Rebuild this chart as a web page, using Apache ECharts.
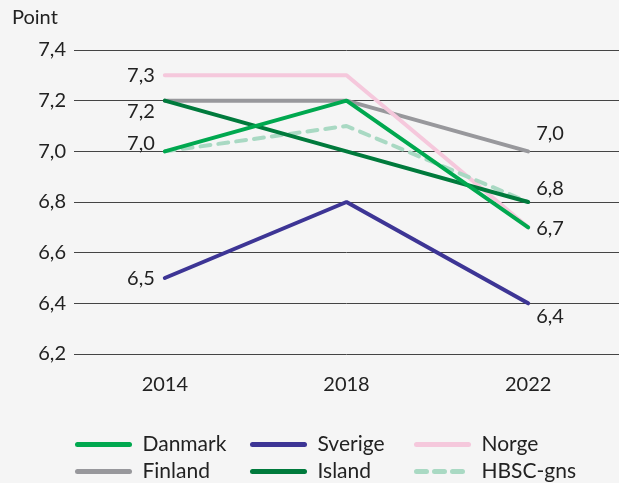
<!DOCTYPE html>
<html>
<head>
<meta charset="utf-8">
<script src="https://cdn.jsdelivr.net/npm/echarts@6/dist/echarts.min.js"></script>
<style>
  html, body { margin: 0; padding: 0; background: #f5f5f5; }
  #chart { width: 619px; height: 483px; }
</style>
</head>
<body>
<div id="chart"></div>
<script>
var years = ['2014', '2018', '2022'];
var danmark = [7.0, 7.2, 6.7];
var sverige = [6.5, 6.8, 6.4];
var norge = [7.3, 7.3, 6.7];
var finland = [7.2, 7.2, 7.0];
var island = [7.2, 7.0, 6.8];
var hbsc = [7.0, 7.1, 6.8];

(function () {
  var myChart = echarts.init(document.getElementById('chart'));
  var font = 'Lato, "Noto Sans", sans-serif';
  var txt = '#222';
  var fs = 20;

  function fmt(v) {
    return v.toFixed(1).replace('.', ',');
  }

  // which points carry a value label, and where it sits: [position, dy]
  function points(values, labels) {
    return values.map(function (v, i) {
      var l = labels[i];
      if (!l) return v;
      return {
        value: v,
        label: {
          show: true,
          position: l[0],
          distance: l[0] == 'left' ? 10 : 8,
          offset: [0, l[1]],
          formatter: function (p) { return fmt(p.value); },
          color: txt,
          fontSize: fs,
          fontFamily: font
        }
      };
    });
  }

  function line(name, color, values, labels, dashed) {
    return {
      name: name,
      type: 'line',
      symbol: 'circle',
      symbolSize: 0,
      data: points(values, labels),
      lineStyle: { color: color, width: 4, type: dashed ? [10, 8] : 'solid', cap: 'round' },
      itemStyle: { color: color },
      emphasis: { disabled: true }
    };
  }

  function legend(name, left, top) {
    return {
      data: [name],
      left: left,
      top: top,
      itemWidth: 52,
      itemHeight: 14,
      itemStyle: { opacity: 0 },
      lineStyle: { width: 5, cap: 'round' },
      textStyle: { color: txt, fontSize: 21, fontFamily: font, padding: [0, 0, 0, 8] }
    };
  }

  var option = {
    backgroundColor: '#f5f5f5',
    animation: false,
    title: {
      text: 'Point',
      left: 7,
      top: 3,
      textStyle: { color: txt, fontSize: fs, fontWeight: 'normal', fontFamily: font }
    },
    legend: [
      legend('Danmark', 70, 429),
      legend('Sverige', 245, 429),
      legend('Norge', 409, 429),
      legend('Finland', 70, 456),
      legend('Island', 245, 456),
      legend('HBSC-gns', 409, 456)
    ],
    grid: {
      left: 74,
      right: 0,
      top: 50,
      height: 304
    },
    xAxis: {
      type: 'category',
      data: years,
      axisLine: { show: false },
      axisTick: { show: false },
      axisLabel: { color: txt, fontSize: fs, fontFamily: font, margin: 21 }
    },
    yAxis: {
      type: 'value',
      min: 6.2,
      max: 7.4,
      interval: 0.2,
      axisLine: { show: false },
      axisTick: { show: false },
      axisLabel: {
        color: txt, fontSize: fs, fontFamily: font, margin: 8,
        formatter: function (v) { return fmt(v); }
      },
      splitLine: { lineStyle: { color: '#444', width: 1 } }
    },
    series: [
      line('Finland', '#98989c', finland, [['left', 11], null, ['right', -18]]),
      line('Norge', '#f5c8dc', norge, [['left', 0], null, null]),
      line('HBSC-gns', '#a9d9c3', hbsc, [null, null, null], true),
      line('Island', '#007a3c', island, [null, null, ['right', -13]]),
      line('Sverige', '#3d3595', sverige, [['left', 1], null, ['right', 13]]),
      line('Danmark', '#00a84f', danmark, [['left', -8], null, ['right', 1]])
    ]
  };

  myChart.setOption(option);
})();
</script>
</body>
</html>
